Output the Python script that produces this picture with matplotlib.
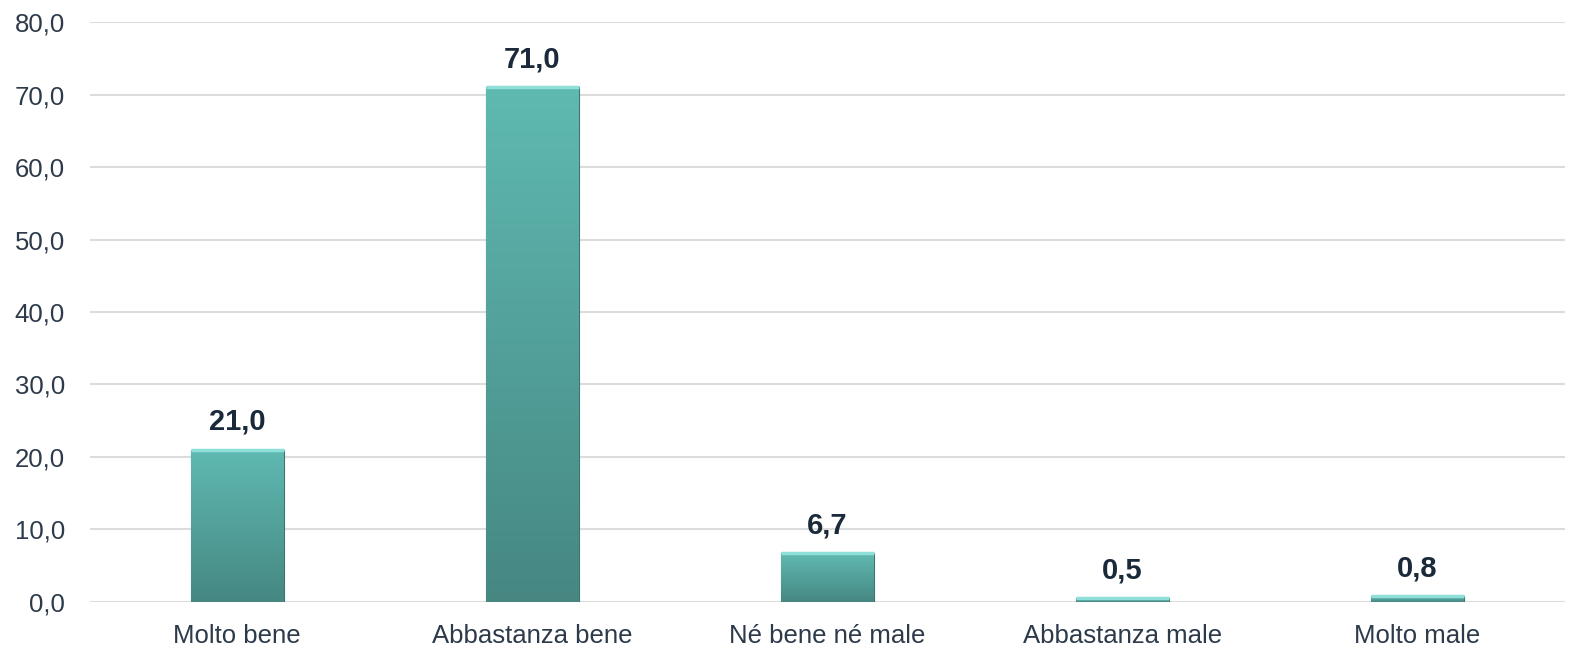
import numpy as np
import matplotlib.pyplot as plt
from matplotlib.colors import LinearSegmentedColormap

# data
categorie = ["Molto bene", "Abbastanza bene", "Né bene né male", "Abbastanza male", "Molto male"]
valori = [21.0, 71.0, 6.7, 0.5, 0.8]
tick_y = [0, 10, 20, 30, 40, 50, 60, 70, 80]

plt.rcParams['font.family'] = ['Liberation Sans', 'DejaVu Sans']

fig = plt.figure(figsize=(15.75, 6.5), dpi=100)
ax = fig.add_axes([0.057, 0.074, 0.9367, 0.892])

x = np.arange(len(categorie))
larg = 0.315
grad = LinearSegmentedColormap.from_list("teal", ["#468782", "#5fbab2"])

bars = ax.bar(x, valori, width=larg, color="#55a89f", edgecolor="#3d7470",
              linewidth=0.8, zorder=3)
# vertical gradient inside each bar
g = np.linspace(0, 1, 256).reshape(-1, 1)
for b in bars:
    x0, y0 = b.get_x(), b.get_y()
    w, h = b.get_width(), b.get_height()
    im = ax.imshow(g, cmap=grad, aspect='auto', origin='lower',
                   extent=[x0, x0 + w, y0, y0 + h], zorder=3.5)
    im.set_clip_path(b)
    # light top bevel
    ax.plot([x0, x0 + w], [y0 + h, y0 + h], color="#8fe0d8", lw=2.5,
            zorder=4, solid_capstyle='butt')

for xi, v in zip(x, valori):
    ax.annotate(f"{v:.1f}".replace(".", ","), (xi, v), xytext=(0, 10),
                textcoords="offset points", ha="center", va="bottom",
                fontsize=21, fontweight="bold", color="#1b2a3a")

ax.set_xlim(-0.5, len(categorie) - 0.5)
ax.set_ylim(0, 80)
ax.set_yticks(tick_y)
ax.set_yticklabels([f"{t:.1f}".replace(".", ",") for t in tick_y])
ax.set_xticks(x)
ax.set_xticklabels(categorie)
ax.tick_params(axis='both', length=0, labelsize=18.5, labelcolor="#2c3a4a")
ax.tick_params(axis='y', pad=18)
ax.tick_params(axis='x', pad=16)
ax.yaxis.grid(True, color="#dcdcdc", linewidth=1.5, zorder=0)
ax.set_axisbelow(True)
for s in ax.spines.values():
    s.set_visible(False)

fig.savefig("out.png", dpi=100)
